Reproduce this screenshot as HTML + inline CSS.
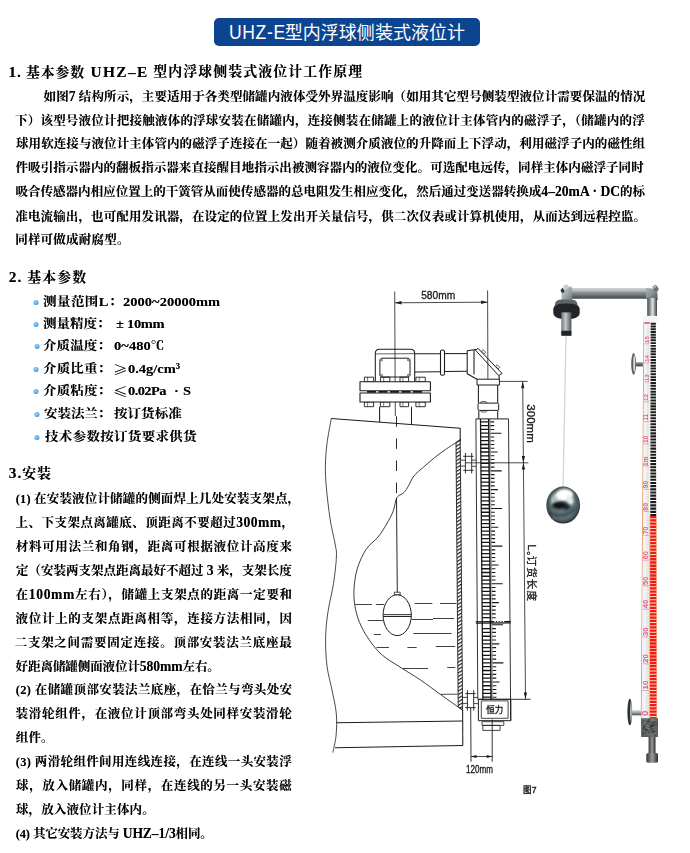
<!DOCTYPE html>
<html lang="zh-CN">
<head>
<meta charset="utf-8">
<title>UHZ-E型内浮球侧装式液位计</title>
<style>
html,body{margin:0;padding:0;background:#fff;}
body{width:690px;height:853px;overflow:hidden;}
#page{position:relative;width:690px;height:853px;overflow:hidden;background:#fff;color:#000;font-family:"Liberation Serif","Noto Serif CJK SC",serif;}
.banner{margin:0;font-weight:400;position:absolute;left:214px;top:18px;width:266px;height:28px;border-radius:5px;background:#0c4490;}
.banner span{position:absolute;color:#fff;font-family:"Liberation Sans","Noto Sans CJK SC",sans-serif;line-height:28px;white-space:nowrap;}
.banner .ba{left:14.7px;top:0;font-size:19.5px;letter-spacing:.69px;transform:scaleX(.9);transform-origin:0 50%;}
.banner .bc{left:70.76px;top:1px;font-size:18px;letter-spacing:.03px;}
#txt{position:absolute;left:0;top:0;width:690px;height:853px;will-change:transform;filter:blur(.3px);}
.ln{position:absolute;white-space:nowrap;font-weight:700;margin:0;text-shadow:0 0 .5px rgba(0,0,0,.45);}
.h{font-size:13.9px;line-height:20px;}
.p,.b,.i{font-size:12.5px;line-height:18px;}
.b{transform:scaleX(1.08);transform-origin:0 50%;}
.b .e{font-size:13.4px;}
.b .dot{transform:scaleX(.926);}
.e{font-size:13.6px;font-weight:700;}
.h .e{font-size:15.4px;}
.i .n{font-size:12.4px;}
.c{font-family:"Noto Serif CJK SC","Liberation Serif",serif;font-weight:900;font-size:13.5px;}
.dot{position:absolute;top:6.5px;width:5px;height:5px;border-radius:50%;background:radial-gradient(circle at 42% 38%,#a9d9fc 0%,#4aa3ea 55%,#2d86d6 100%);}
#dia{position:absolute;left:0;top:0;}
</style>
</head>
<body>
<div id="page">
<h1 class="banner"><span class="ba">UHZ-E</span><span class="bc">型内浮球侧装式液位计</span></h1>
<div id="txt">
<div class="ln h" style="left:8.51px;top:62px;letter-spacing:0.849px;"><span class="e">1.</span> 基本参数</div>
<div class="ln h" style="left:90.42px;top:62px;letter-spacing:1.376px;"><span class="e">UHZ–E</span></div>
<div class="ln h" style="left:153.28px;top:62px;letter-spacing:1.104px;">型内浮球侧装式液位计工作原理</div>
<div class="ln p" style="left:43.58px;top:88px;letter-spacing:0.089px;">如图<span class="e">7</span> 结构所示，主要适用于各类型储罐内液体受外界温度影响（如用其它型号侧装型液位计需要保温的情况</div>
<div class="ln p" style="left:14.98px;top:112px;letter-spacing:0.225px;">下）该型号液位计把接触液体的浮球安装在储罐内，连接侧装在储罐上的液位计主体管内的磁浮子，（储罐内的浮</div>
<div class="ln p" style="left:16px;top:135px;letter-spacing:0.084px;">球用软连接与液位计主体管内的磁浮子连接在一起）随着被测介质液位的升降而上下浮动，利用磁浮子内的磁性组</div>
<div class="ln p" style="left:15.55px;top:159px;letter-spacing:0.063px;">件吸引指示器内的翻板指示器来直接醒目地指示出被测容器内的液位变化。可选配电远传，同样主体内磁浮子同时</div>
<div class="ln p" style="left:15.53px;top:183px;letter-spacing:0.019px;">吸合传感器内相应位置上的干簧管从而使传感器的总电阻发生相应变化，然后通过变送器转换成<span class="e">4–20mA · DC</span>的标</div>
<div class="ln p" style="left:15.37px;top:208px;letter-spacing:0.116px;">准电流输出，也可配用发讯器，在设定的位置上发出开关量信号，供二次仪表或计算机使用，从而达到远程控监。</div>
<div class="ln p" style="left:15.2px;top:231px;letter-spacing:0.214px;">同样可做成耐腐型。</div>
<div class="ln h" style="left:8.79px;top:267px;letter-spacing:1.134px;"><span class="e">2.</span> 基本参数</div>
<div class="ln b" style="left:43.34px;top:293px;letter-spacing:0.416px;"><i class="dot" style="left:-8.74px"></i>测量范围<span class="e">L</span>：</div>
<div class="ln b" style="left:123.44px;top:293px;letter-spacing:0.036px;"><span class="e">2000~20000mm</span></div>
<div class="ln b" style="left:43.45px;top:315px;letter-spacing:-0.007px;"><i class="dot" style="left:-8.84px"></i>测量精度：</div>
<div class="ln b" style="left:116.4px;top:315px;"><span class="e">±</span></div>
<div class="ln b" style="left:127.4px;top:315px;letter-spacing:-0.273px;"><span class="e">10mm</span></div>
<div class="ln b" style="left:42.84px;top:337px;letter-spacing:0.091px;"><i class="dot" style="left:-8.28px"></i>介质温度：</div>
<div class="ln b" style="left:113.84px;top:337px;letter-spacing:0.079px;"><span class="e">0~480</span>℃</div>
<div class="ln b" style="left:43.18px;top:360px;letter-spacing:0.151px;"><i class="dot" style="left:-8.59px"></i>介质比重：</div>
<div class="ln b" style="left:112.68px;top:360px;"><span class="c">≥</span></div>
<div class="ln b" style="left:128px;top:360px;"><span class="e">0.4g/cm³</span></div>
<div class="ln b" style="left:43.18px;top:382px;letter-spacing:0.151px;"><i class="dot" style="left:-8.59px"></i>介质粘度：</div>
<div class="ln b" style="left:113.02px;top:382px;"><span class="c">≤</span></div>
<div class="ln b" style="left:127.68px;top:382px;letter-spacing:-0.537px;"><span class="e">0.02Pa</span></div>
<div class="ln b" style="left:173.84px;top:382px;"><span class="e">·</span></div>
<div class="ln b" style="left:182.87px;top:382px;"><span class="e">S</span></div>
<div class="ln b" style="left:43.92px;top:405px;letter-spacing:-0.056px;"><i class="dot" style="left:-9.28px"></i>安装法兰：</div>
<div class="ln b" style="left:114.05px;top:405px;letter-spacing:0.073px;">按订货标准</div>
<div class="ln b" style="left:44.5px;top:428px;letter-spacing:0.293px;"><i class="dot" style="left:-9.81px"></i>技术参数按订货要求供货</div>
<div class="ln h" style="left:8.81px;top:463px;letter-spacing:0.956px;"><span class="e">3.</span>安装</div>
<div class="ln i" style="left:15.76px;top:490px;letter-spacing:0.178px;"><span class="e n">(1)</span> 在安装液位计储罐的侧面焊上几处安装支架点，</div>
<div class="ln i" style="left:15.51px;top:514px;letter-spacing:0.479px;">上、下支架点离罐底、顶距离不要超过<span class="e">300mm</span>，</div>
<div class="ln i" style="left:15.84px;top:538px;letter-spacing:0.682px;">材料可用法兰和角钢，距离可根据液位计高度来</div>
<div class="ln i" style="left:16px;top:562px;letter-spacing:0.004px;">定（安装两支架点距离最好不超过 <span class="e">3</span> 米，支架长度</div>
<div class="ln i" style="left:15.54px;top:586px;letter-spacing:0.669px;">在<span class="e">100mm</span>左右），储罐上支架点的距离一定要和</div>
<div class="ln i" style="left:15.57px;top:610px;letter-spacing:0.701px;">液位计上的支架点距离相等，连接方法相同，因</div>
<div class="ln i" style="left:14.69px;top:634px;letter-spacing:0.727px;">二支架之间需要固定连接。顶部安装法兰底座最</div>
<div class="ln i" style="left:15.62px;top:658px;letter-spacing:-0.078px;">好距离储罐侧面液位计<span class="e">580mm</span>左右。</div>
<div class="ln i" style="left:15.76px;top:681px;letter-spacing:0.382px;"><span class="e n">(2)</span> 在储罐顶部安装法兰底座，在恰兰与弯头处安</div>
<div class="ln i" style="left:15.59px;top:705px;letter-spacing:0.685px;">装滑轮组件，在液位计顶部弯头处同样安装滑轮</div>
<div class="ln i" style="left:15.82px;top:729px;letter-spacing:0.088px;">组件。</div>
<div class="ln i" style="left:15.76px;top:753px;letter-spacing:0.365px;"><span class="e n">(3)</span> 两滑轮组件间用连线连接，在连线一头安装浮</div>
<div class="ln i" style="left:16px;top:777px;letter-spacing:0.664px;">球，放入储罐内，同样，在连线的另一头安装磁</div>
<div class="ln i" style="left:16px;top:801px;letter-spacing:0.12px;">球，放入液位计主体内。</div>
<div class="ln i" style="left:15.76px;top:825px;letter-spacing:-0.106px;"><span class="e n">(4)</span> 其它安装方法与 <span class="e">UHZ–1/3</span>相同。</div>
</div>
<svg id="dia" width="690" height="853" viewBox="0 0 690 853" role="img" aria-label="图7 UHZ-E 安装示意图">
<defs>
<linearGradient id="gPipeH" x1="0" y1="0" x2="0" y2="1"><stop offset="0" stop-color="#b4b9b9"/><stop offset=".16" stop-color="#c6caca"/><stop offset=".42" stop-color="#8a9092"/><stop offset=".75" stop-color="#626a6d"/><stop offset="1" stop-color="#3c4548"/></linearGradient>
<linearGradient id="gStemH2" x1="0" y1="0" x2="0" y2="1"><stop offset="0" stop-color="#a9aeae"/><stop offset=".5" stop-color="#5f6669"/><stop offset="1" stop-color="#3f4649"/></linearGradient>
<linearGradient id="gPipeV" x1="0" y1="0" x2="1" y2="0"><stop offset="0" stop-color="#444d50"/><stop offset=".3" stop-color="#8d9496"/><stop offset=".55" stop-color="#e2e5e5"/><stop offset=".8" stop-color="#80878a"/><stop offset="1" stop-color="#3a4346"/></linearGradient>
<linearGradient id="gTube" x1="0" y1="0" x2="1" y2="0"><stop offset="0" stop-color="#6c7578"/><stop offset=".42" stop-color="#c2c7c7"/><stop offset=".7" stop-color="#8b9294"/><stop offset="1" stop-color="#485154"/></linearGradient>
<linearGradient id="gStem" x1="0" y1="0" x2="1" y2="0"><stop offset="0" stop-color="#2e3234"/><stop offset=".5" stop-color="#9a9c9c"/><stop offset="1" stop-color="#2a2e30"/></linearGradient>
<linearGradient id="gStemH" x1="0" y1="0" x2="0" y2="1"><stop offset="0" stop-color="#d8dada"/><stop offset=".5" stop-color="#9a9e9e"/><stop offset="1" stop-color="#4a4e50"/></linearGradient>
<linearGradient id="gDisk" x1="0" y1="0" x2="1" y2="0"><stop offset="0" stop-color="#222628"/><stop offset=".55" stop-color="#5a6062"/><stop offset="1" stop-color="#c4c8c8"/></linearGradient>
<radialGradient id="gBall" cx=".5" cy=".46" r=".52"><stop offset="0" stop-color="#6b7b7f"/><stop offset=".7" stop-color="#5a6a6e"/><stop offset=".9" stop-color="#3f4e52"/><stop offset="1" stop-color="#2b363a"/></radialGradient>
<radialGradient id="gHi" cx=".5" cy=".5" r=".5"><stop offset="0" stop-color="#fff"/><stop offset=".6" stop-color="#f0f2f2"/><stop offset="1" stop-color="#f0f2f2" stop-opacity="0"/></radialGradient>
<pattern id="hatch" width="3.1" height="3.1" patternUnits="userSpaceOnUse" patternTransform="rotate(-31)"><rect width="3.1" height="1.15" fill="#1c1c1c"/></pattern>
<filter id="soft" x="-5%" y="-5%" width="110%" height="110%"><feGaussianBlur stdDeviation="0.45"/></filter>
<filter id="soft6" x="-10%" y="-10%" width="120%" height="120%"><feGaussianBlur stdDeviation="0.65"/></filter>
<linearGradient id="gElbR" x1="0" y1="0" x2="1" y2="1"><stop offset="0" stop-color="#a9afaf"/><stop offset=".45" stop-color="#8c9496"/><stop offset="1" stop-color="#4c5558"/></linearGradient>
<linearGradient id="gElb" x1="0" y1="0" x2="1" y2="1"><stop offset="0" stop-color="#d0d4d4"/><stop offset=".5" stop-color="#a2a9aa"/><stop offset="1" stop-color="#6f787a"/></linearGradient>
<filter id="blur1" x="-30%" y="-30%" width="160%" height="160%"><feGaussianBlur stdDeviation="0.9"/></filter>
</defs>
<g id="drawing" fill="none" stroke="#1c1c1c" stroke-width="1.05" stroke-linecap="butt" stroke-linejoin="round">
<line x1="394.7" y1="291.6" x2="395.3" y2="416" stroke-width="0.8"/>
<line x1="487.6" y1="290.4" x2="487.9" y2="379" stroke-width="0.8"/>
<line x1="395" y1="302.8" x2="487.6" y2="302.2" stroke-width="0.8"/>
<path d="M395 302.8l6.5-1.7v3.4zM487.6 302.2l-6.5-1.7v3.4z" fill="#1c1c1c" stroke="none"/>
<path d="M375.3 381.7V353.4q0-4.2 4.2-4.2h31q4.2 0 4.2 4.2V381.7"/>
<line x1="375.8" y1="353.9" x2="414.7" y2="353.7" stroke-width="0.7"/>
<path d="M381.4 358.2h27.1l1.5 1.5v15.8l-1.5 1.5h-27.1l-1.5-1.5v-15.8z" stroke-width="1"/>
<circle cx="381.6" cy="360" r="0.9" stroke-width="0.6"/>
<circle cx="408.3" cy="360" r="0.9" stroke-width="0.6"/>
<circle cx="381.6" cy="375.2" r="0.9" stroke-width="0.6"/>
<circle cx="408.3" cy="375.2" r="0.9" stroke-width="0.6"/>
<line x1="414.7" y1="353.8" x2="440.5" y2="353.7"/>
<line x1="414.7" y1="372" x2="440.5" y2="371.8"/>
<rect x="440.5" y="350" width="4" height="25.3" rx="1.6" stroke-width="1.1"/>
<line x1="444.5" y1="353.6" x2="467.2" y2="353.6"/>
<line x1="444.5" y1="371.4" x2="467.2" y2="371.2"/>
<path d="M467.2 350.7V373.8L477 379.2M467.2 350.7L476 349.4M474 350V374.6"/>
<path d="M478 348.3L502 373.4L498.7 375.6L475.5 350.2Z" stroke-width="1"/>
<path d="M481.6 351.2l1.6-1.5 2.6 2.6-1.6 1.5zM495.6 366.2l1.6-1.5 2.6 2.6-1.6 1.5z" stroke-width="0.7"/>
<line x1="498.9" y1="375.6" x2="499.4" y2="379.2"/>
<rect x="477" y="379.2" width="22.4" height="5.8" stroke-width="1"/>
<line x1="478.4" y1="385" x2="478.4" y2="403"/>
<line x1="497.7" y1="385" x2="497.7" y2="403"/>
<rect x="478" y="403.1" width="20.7" height="7.3" rx="1.5" stroke-width="1"/>
<path d="M480.6 403.1q0-1.6 1.6-1.6h3q1.6 0 1.6 1.6M480.6 410.4q0 1.6 1.6 1.6h3q1.6 0 1.6-1.6" stroke-width="0.7"/>
<line x1="478.8" y1="410.4" x2="478.8" y2="418.6"/>
<line x1="497.7" y1="410.4" x2="497.7" y2="418.6"/>
<rect x="364.4" y="377.2" width="9.2" height="4.5" stroke-width="0.9"/>
<line x1="367.6" y1="377.2" x2="367.6" y2="381.7" stroke-width="0.6"/>
<rect x="364.4" y="402" width="9.2" height="4.7" stroke-width="0.9"/>
<line x1="367.6" y1="402" x2="367.6" y2="406.7" stroke-width="0.6"/>
<rect x="380.4" y="377.2" width="9.4" height="4.5" stroke-width="0.9"/>
<line x1="383.7" y1="377.2" x2="383.7" y2="381.7" stroke-width="0.6"/>
<rect x="380.4" y="402" width="9.4" height="4.7" stroke-width="0.9"/>
<line x1="383.7" y1="402" x2="383.7" y2="406.7" stroke-width="0.6"/>
<rect x="400" y="377.2" width="8.6" height="4.5" stroke-width="0.9"/>
<line x1="402.9" y1="377.2" x2="402.9" y2="381.7" stroke-width="0.6"/>
<rect x="400" y="402" width="8.6" height="4.7" stroke-width="0.9"/>
<line x1="402.9" y1="402" x2="402.9" y2="406.7" stroke-width="0.6"/>
<rect x="415.9" y="377.2" width="9.4" height="4.5" stroke-width="0.9"/>
<line x1="419.2" y1="377.2" x2="419.2" y2="381.7" stroke-width="0.6"/>
<rect x="415.9" y="402" width="9.4" height="4.7" stroke-width="0.9"/>
<line x1="419.2" y1="402" x2="419.2" y2="406.7" stroke-width="0.6"/>
<rect x="360" y="381.7" width="70.4" height="9.1" stroke-width="1.1" fill="#fff"/>
<rect x="360" y="393" width="70.4" height="9" stroke-width="1.1" fill="#fff"/>
<line x1="367" y1="391.9" x2="424" y2="391.9" stroke-width="1.6" stroke-dasharray="9 2.5"/>
<line x1="379.6" y1="406.7" x2="379.6" y2="421.9"/>
<line x1="411.5" y1="406.7" x2="411.5" y2="424.2"/>
<path d="M331.3 418.5L460.2 428.3V441.3"/>
<path d="M331.3 418.5C330.58 422.67 327.98 435.72 327 443.5C326.02 451.28 325.52 457.95 325.4 465.2C325.28 472.45 325.5 477.93 326.3 487C327.1 496.07 328.7 509.93 330.2 519.6C331.7 529.27 334.27 538.77 335.3 545C336.33 551.23 336.7 550.58 336.4 557C336.1 563.42 334.9 574.38 333.5 583.5C332.1 592.62 329.32 602.65 328 611.7C326.68 620.75 325.77 628.75 325.6 637.8C325.43 646.85 325.93 657.3 327 666C328.07 674.7 330.45 682.08 332 690C333.55 697.92 335.62 705.97 336.3 713.5C336.98 721.03 336.68 728.68 336.1 735.2C335.52 741.72 333.35 749.7 332.8 752.6" stroke-width="0.8"/>
<line x1="336.5" y1="722.8" x2="462.8" y2="721.1"/>
<line x1="335" y1="747.8" x2="462.8" y2="745.4"/>
<line x1="462.65" y1="710" x2="462.8" y2="745.4"/>
<path d="M456 442.4L460.2 439.5L462.6 710L458.2 706.9Z" fill="url(#hatch)" stroke-width="0.9"/>
<path d="M456.3 442.4C454.48 443.6 449.02 447.07 445.4 449.6C441.78 452.13 438.22 454.7 434.6 457.6C430.98 460.5 427.15 463.93 423.7 467C420.25 470.07 416.43 472.85 413.9 476C411.37 479.15 410.13 483.17 408.5 485.9C406.87 488.63 405.73 490.77 404.1 492.4C402.47 494.03 400.07 494.43 398.7 495.7C397.33 496.97 396.8 497.47 395.9 500C395 502.53 394.83 506.92 393.3 510.9C391.77 514.88 389.25 519.55 386.7 523.9C384.15 528.25 381.45 532.73 378 537C374.55 541.27 369.43 544.28 366 549.5C362.57 554.72 359.38 561.92 357.4 568.3C355.42 574.68 354.53 581.65 354.1 587.8C353.67 593.95 353.88 599.4 354.8 605.2C355.72 611 357.18 616.8 359.6 622.6C362.02 628.4 365.5 634.57 369.3 640C373.1 645.43 376.95 650.48 382.4 655.2C387.85 659.92 395.65 664.17 402 668.3C408.35 672.43 414 675.58 420.5 680C427 684.42 434.03 689.8 441 694.8C447.97 699.8 458.75 707.47 462.3 710" stroke-width="0.85"/>
<line x1="441" y1="694.3" x2="457.6" y2="694.2" stroke-width="0.8"/>
<line x1="396.5" y1="416.3" x2="396.5" y2="493.5" stroke-width="0.95" stroke-dasharray="10.5 11.6"/>
<line x1="396.5" y1="497.8" x2="397.3" y2="592.2" stroke-width="0.95"/>
<rect x="394.3" y="592.2" width="5.9" height="2.6" stroke-width="0.8" fill="#fff"/>
<ellipse cx="397.2" cy="615.2" rx="14.1" ry="20.4" stroke-width="1" fill="#fff"/>
<line x1="383.2" y1="614.5" x2="411.2" y2="614.5" stroke-width="0.8"/>
<line x1="383.2" y1="616.4" x2="411.2" y2="616.4" stroke-width="1.1"/>
<line x1="355.2" y1="604.5" x2="372" y2="604.5" stroke-width="0.85"/>
<line x1="375.9" y1="604.5" x2="384.1" y2="604.5" stroke-width="0.85"/>
<line x1="414.6" y1="603.5" x2="432.4" y2="603.5" stroke-width="0.85"/>
<line x1="440" y1="603.5" x2="456.3" y2="603.5" stroke-width="0.85"/>
<line x1="367.8" y1="620.5" x2="382.8" y2="620.5" stroke-width="0.85"/>
<line x1="411.7" y1="619.5" x2="433" y2="619.5" stroke-width="0.85"/>
<line x1="433" y1="618.5" x2="454.1" y2="618.5" stroke-width="0.85"/>
<line x1="373.7" y1="634.5" x2="380.9" y2="634.5" stroke-width="0.85"/>
<line x1="413.5" y1="633.5" x2="451.5" y2="633.5" stroke-width="0.85"/>
<line x1="376.5" y1="647.5" x2="388.9" y2="647.5" stroke-width="0.85"/>
<line x1="407.4" y1="647.5" x2="416.7" y2="647.5" stroke-width="0.85"/>
<line x1="435.7" y1="646.5" x2="455.2" y2="646.5" stroke-width="0.85"/>
<line x1="403" y1="668.5" x2="428" y2="668.5" stroke-width="0.85"/>
<line x1="447.2" y1="667.5" x2="455.2" y2="667.5" stroke-width="0.85"/>
<line x1="465.4" y1="452.9" x2="465.4" y2="473.3" stroke-width="0.9"/>
<line x1="471.7" y1="452.9" x2="471.7" y2="473.3" stroke-width="0.9"/>
<line x1="463.2" y1="456.3" x2="473.6" y2="456.3" stroke-width="0.9"/>
<line x1="463.2" y1="470.3" x2="473.6" y2="470.3" stroke-width="0.9"/>
<line x1="460.3" y1="460.1" x2="465.4" y2="460.1" stroke-width="0.8"/>
<line x1="460.3" y1="466.1" x2="465.4" y2="466.1" stroke-width="0.8"/>
<line x1="471.7" y1="460.1" x2="475.9" y2="460.1" stroke-width="0.8"/>
<line x1="471.7" y1="466.3" x2="475.9" y2="466.3" stroke-width="0.8"/>
<line x1="467.4" y1="690.2" x2="467.4" y2="710.6" stroke-width="0.9"/>
<line x1="473.7" y1="690.2" x2="473.7" y2="710.6" stroke-width="0.9"/>
<line x1="465.2" y1="693.6" x2="475.6" y2="693.6" stroke-width="0.9"/>
<line x1="465.2" y1="707.6" x2="475.6" y2="707.6" stroke-width="0.9"/>
<line x1="462.3" y1="697.4" x2="467.4" y2="697.4" stroke-width="0.8"/>
<line x1="462.3" y1="703.4" x2="467.4" y2="703.4" stroke-width="0.8"/>
<line x1="473.7" y1="697.4" x2="477.9" y2="697.4" stroke-width="0.8"/>
<line x1="473.7" y1="703.6" x2="477.9" y2="703.6" stroke-width="0.8"/>
<line x1="475.9" y1="418.9" x2="508.5" y2="418.9" stroke-width="1"/>
<line x1="475.9" y1="418.9" x2="477.8" y2="699.3" stroke-width="0.9"/>
<line x1="508.5" y1="418.9" x2="510.7" y2="720.7" stroke-width="0.9"/>
<g stroke="#141414">
<line x1="480.5" y1="418.9" x2="482.88" y2="699.3" stroke-width="1.25"/>
<line x1="488.7" y1="418.9" x2="491.08" y2="699.3" stroke-width="1.45"/>
<line x1="490.2" y1="418.9" x2="492.68" y2="699.3" stroke-width="0.5" stroke="#555"/>
<path d="M480.52 421.9H488.72M480.56 425.66H488.76M480.59 429.43H488.79M480.62 433.19H488.82M480.65 436.96H488.85M480.68 440.72H488.88M480.72 444.49H488.92M480.75 448.25H488.95M480.78 452.02H488.98M480.81 455.78H489.01M480.84 459.55H489.04M480.88 463.31H489.08M480.91 467.08H489.11M480.94 470.84H489.14M480.97 474.61H489.17M481 478.38H489.2M481.04 482.14H489.24M481.07 485.9H489.27M481.1 489.67H489.3M481.13 493.43H489.33M481.16 497.2H489.36M481.2 500.96H489.4M481.23 504.73H489.43M481.26 508.5H489.46M481.29 512.26H489.49M481.32 516.02H489.52M481.36 519.79H489.56M481.39 523.55H489.59M481.42 527.32H489.62M481.45 531.09H489.65M481.48 534.85H489.68M481.52 538.62H489.72M481.55 542.38H489.75M481.58 546.14H489.78M481.61 549.91H489.81M481.64 553.67H489.84M481.68 557.44H489.88M481.71 561.2H489.91M481.74 564.97H489.94M481.77 568.74H489.97M481.8 572.5H490M481.84 576.26H490.04M481.87 580.03H490.07M481.9 583.79H490.1M481.93 587.56H490.13M481.96 591.33H490.16M482 595.09H490.2M482.03 598.86H490.23M482.06 602.62H490.26M482.09 606.38H490.29M482.12 610.15H490.32M482.16 613.91H490.36M482.19 617.68H490.39M482.28 628.61H490.48M482.31 632.42H490.51M482.35 636.23H490.55M482.38 640.04H490.58M482.41 643.85H490.61M482.44 647.66H490.64M482.48 651.47H490.68M482.51 655.28H490.71M482.54 659.09H490.74M482.57 662.9H490.77M482.61 666.71H490.81M482.64 670.52H490.84M482.67 674.33H490.87M482.7 678.14H490.9M482.74 681.95H490.94M482.77 685.76H490.97M482.8 689.57H491M482.83 693.38H491.03M482.86 697.19H491.06" stroke-width="1.3"/>
<path d="M490.42 421.9h3.7M490.46 425.66h3.7M490.49 429.43h3.7M490.52 433.19h10.9M490.55 436.96h3.7M490.58 440.72h3.7M490.62 444.49h3.7M490.65 448.25h3.7M490.68 452.02h6.9M490.71 455.78h3.7M490.74 459.55h3.7M490.78 463.31h3.7M490.81 467.08h3.7M490.84 470.84h10.9M490.87 474.61h3.7M490.9 478.38h3.7M490.94 482.14h3.7M490.97 485.9h3.7M491 489.67h6.9M491.03 493.43h3.7M491.06 497.2h3.7M491.1 500.96h3.7M491.13 504.73h3.7M491.16 508.5h10.9M491.19 512.26h3.7M491.22 516.02h3.7M491.26 519.79h3.7M491.29 523.55h3.7M491.32 527.32h6.9M491.35 531.09h3.7M491.38 534.85h3.7M491.42 538.62h3.7M491.45 542.38h3.7M491.48 546.14h10.9M491.51 549.91h3.7M491.54 553.67h3.7M491.58 557.44h3.7M491.61 561.2h3.7M491.64 564.97h6.9M491.67 568.74h3.7M491.7 572.5h3.7M491.74 576.26h3.7M491.77 580.03h3.7M491.8 583.79h10.9M491.83 587.56h3.7M491.86 591.33h3.7M491.9 595.09h3.7M491.93 598.86h3.7M491.96 602.62h6.9M491.99 606.38h3.7M492.02 610.15h3.7M492.06 613.91h3.7M492.09 617.68h3.7M492.15 624.8h10.9M492.18 628.61h3.7M492.21 632.42h3.7M492.25 636.23h3.7M492.28 640.04h3.7M492.31 643.85h6.9M492.34 647.66h3.7M492.38 651.47h3.7M492.41 655.28h3.7M492.44 659.09h3.7M492.47 662.9h10.9M492.51 666.71h3.7M492.54 670.52h3.7M492.57 674.33h3.7M492.6 678.14h3.7M492.64 681.95h6.9M492.67 685.76h3.7M492.7 689.57h3.7M492.73 693.38h3.7M492.76 697.19h3.7" stroke-width="1.1"/>
<line x1="475.6" y1="621.7" x2="493" y2="621.6" stroke-width="1.1"/>
<line x1="493" y1="621.6" x2="505" y2="621.5" stroke-width="1.1" stroke-dasharray="1.2 1.6"/>
<line x1="505" y1="621.5" x2="510.8" y2="621.5" stroke-width="1.1"/>
<line x1="476" y1="623.1" x2="510.6" y2="622.9" stroke-width="1.1"/>
</g>
<line x1="499.7" y1="381.4" x2="527.7" y2="381.4" stroke-width="0.8"/>
<line x1="465.4" y1="462.8" x2="528.4" y2="462.8" stroke-width="0.8"/>
<line x1="478.4" y1="699.3" x2="530.6" y2="699.3" stroke-width="0.9"/>
<line x1="522.7" y1="381.4" x2="525.5" y2="699.3" stroke-width="0.8"/>
<path d="M522.7 381.4l-1.6 6.8h3.3zM523.4 462.8l-1.7-6.8h3.3zM523.4 462.8l-1.6 6.8h3.3zM525.5 699.3l-1.7-6.8h3.3z" fill="#1c1c1c" stroke="none"/>
<rect x="478.4" y="699.3" width="32.4" height="21.4" stroke-width="1"/>
<rect x="481.3" y="700.9" width="26.8" height="17.4" stroke-width="0.8"/>
<rect x="482" y="721.7" width="21.8" height="3.7" stroke-width="0.8"/>
<rect x="482.8" y="725.4" width="17.3" height="5" stroke-width="0.8"/>
<line x1="470.7" y1="707.6" x2="471" y2="761.7" stroke-width="0.9"/>
<line x1="492.2" y1="719.6" x2="492.2" y2="761.7" stroke-width="0.9"/>
<line x1="471" y1="756.5" x2="492.2" y2="756.5" stroke-width="0.8"/>
<path d="M471 756.5l5.5-1.5v3zM492.2 756.5l-5.5-1.5v3z" fill="#1c1c1c" stroke="none"/>
</g>
<g font-family="'Liberation Sans','Noto Sans CJK SC',sans-serif" fill="#161616" stroke="#161616" stroke-width="0.3">
<text x="421.2" y="298.7" font-size="11.2" textLength="34" lengthAdjust="spacingAndGlyphs">580mm</text>
<text transform="translate(526.6 404.3) rotate(90)" font-size="11.4" textLength="38.5" lengthAdjust="spacingAndGlyphs">300mm</text>
<text transform="translate(527.9 544.6) rotate(90)" font-size="10.5" textLength="56.3" lengthAdjust="spacing">L<tspan font-size="6" dy="0.5">o</tspan><tspan dy="-0.5">订货长度</tspan></text>
<text x="486.2" y="713.2" font-size="8.6" textLength="17" lengthAdjust="spacingAndGlyphs">恒力</text>
<text x="466" y="772.9" font-size="10.4" textLength="27" lengthAdjust="spacingAndGlyphs">120mm</text>
<text x="523.1" y="793" font-size="9.4" stroke-width="0.35" textLength="13.4" lengthAdjust="spacingAndGlyphs">图7</text>
</g>
<g id="photo" filter="url(#soft6)">
<line x1="566" y1="335.5" x2="563" y2="488" stroke-width="1.3" stroke="#d2d5d5"/>
<rect x="568" y="288.3" width="80" height="10.4" fill="url(#gPipeH)"/>
<path d="M561.6 300.500V294.500q0-7.700 7.400-7.700h3v13.700z" fill="url(#gElb)"/>
<path d="M563 286l3.800-1.800 2.800 2.800-4.400 3z" fill="#c9cdcd"/>
<path d="M560.4 290.600l2.200-3 2 3.800-2.200 2z" fill="#2f383c"/>
<path d="M646 288.300h4.200q7.400 0 7.400 7.600v4.100h-10.400v-1.300h-1.200z" fill="url(#gElbR)"/>
<path d="M652.4 286.400l3.400-1.600 3 3.600-1.200 3.400-2.800-.4z" fill="#6a7376"/>
<path d="M653.2 286.600l2-1 1.200 1.400-2.400 1.200z" fill="#b9bebe"/>
<rect x="647.2" y="298" width="9.8" height="18.2" fill="url(#gPipeV)"/>
<path d="M554.6 306.5q0-6.900 6.400-6.900h10.400q6.400 0 6.400 6.900z" fill="#5d6568"/>
<path d="M553.3 309.3q0-5.800 13.200-5.800t13.200 5.800v3.400q0 6.300-13.200 6.300t-13.200-6.300z" fill="#22272b"/>
<rect x="561.3" y="312.4" width="10.1" height="23.4" fill="url(#gTube)"/>
<rect x="561.3" y="330.7" width="10.1" height="5.1" rx="1" fill="#20282c"/>
<ellipse cx="563.2" cy="505.1" rx="16.9" ry="18.5" fill="url(#gBall)"/>
<g filter="url(#blur1)">
<ellipse cx="556.6" cy="499" rx="5.2" ry="7.4" fill="#b4bec0" transform="rotate(30 556.6 499)"/>
<ellipse cx="564.6" cy="495" rx="8.6" ry="6" fill="#ffffff"/>
<ellipse cx="565" cy="495.2" rx="5.5" ry="3.6" fill="#ffffff"/>
<ellipse cx="570" cy="500" rx="3.4" ry="5" fill="#e4e8e8" transform="rotate(-20 570 500)"/>
<path d="M549.5 512.5q13 8.500 26.500-5" fill="none" stroke="#334145" stroke-width="1.6"/>
<path d="M552 517q11 5.500 21-2" fill="none" stroke="#6d7c80" stroke-width="1.4"/>
</g>
<g filter="url(#blur1)">
<ellipse cx="559.6" cy="505.2" rx="7.4" ry="3.5" fill="#0f1519"/>
<ellipse cx="566.4" cy="507" rx="3.2" ry="2.7" fill="#1b2428"/>
</g>
</g>
<g id="gauge" filter="url(#soft)">
<rect x="643.1" y="315.9" width="14.9" height="6.3" fill="#f5f5f1"/>
<path d="M643.4 322.2L644.35 322.2L641.75 718.2L640.8 718.2Z" fill="#ec9a64"/>
<path d="M644.35 322.2L649.7 322.2L648.71 718.2L641.75 718.2Z" fill="#eef3f9"/>
<path d="M649.22 516L656.74 516L657.1 718.2L648.71 718.2Z" fill="#f6b98e"/>
<path d="M650.24 516L656.19 516L656.55 718.2L649.85 718.2Z" fill="#fbd9bd"/>
<path d="M644.35 322.2L649.7 322.2L649.7 323.8L644.34 323.8Z" fill="#e0405e"/>
<path d="M650.61 322.8H655.85V324.66H650.61ZM650.61 325.54H655.86V327.41H650.61ZM650.6 328.29H655.86V330.16H650.6ZM650.6 331.05H655.87V332.93H650.6ZM650.59 333.81H655.87V335.7H650.59ZM650.59 336.58H655.88V338.47H650.59ZM650.58 339.36H655.88V341.25H650.58ZM650.58 342.15H655.89V344.05H650.58ZM650.57 344.94H655.89V346.84H650.57ZM650.57 347.74H655.9V349.65H650.57ZM650.56 350.55H655.9V352.46H650.56ZM650.55 353.37H655.91V355.29H650.55ZM650.55 356.19H655.91V358.11H650.55ZM650.54 359.02H655.92V360.95H650.54ZM650.54 361.86H655.92V363.79H650.54ZM650.53 364.71H655.93V366.65H650.53ZM650.53 367.56H655.93V369.51H650.53ZM650.52 370.42H655.94V372.37H650.52ZM650.52 373.29H655.94V375.25H650.52ZM650.51 376.17H655.95V378.13H650.51ZM650.5 379.05H655.95V381.02H650.5ZM650.5 381.95H655.96V383.92H650.5ZM650.49 384.85H655.96V386.82H650.49ZM650.49 387.75H655.97V389.74H650.49ZM650.48 390.67H655.97V392.66H650.48ZM650.48 393.59H655.98V395.59H650.48ZM650.47 396.52H655.98V398.52H650.47ZM650.47 399.46H655.99V401.47H650.47ZM650.46 402.41H655.99V404.42H650.46ZM650.45 405.37H656V407.38H650.45ZM650.45 408.33H656V410.35H650.45ZM650.44 411.3H656.01V413.33H650.44ZM650.44 414.28H656.01V416.31H650.44ZM650.43 417.27H656.02V419.3H650.43ZM650.42 420.26H656.02V422.3H650.42ZM650.42 423.27H656.03V425.31H650.42ZM650.41 426.28H656.03V428.33H650.41ZM650.41 429.3H656.04V431.35H650.41ZM650.4 432.32H656.04V434.39H650.4ZM650.4 435.36H656.05V437.43H650.4ZM650.39 438.4H656.06V440.48H650.39ZM650.38 441.45H656.06V443.53H650.38ZM650.38 444.51H656.07V446.6H650.38ZM650.37 447.58H656.07V449.67H650.37ZM650.37 450.66H656.08V452.76H650.37ZM650.36 453.74H656.08V455.85H650.36ZM650.35 456.84H656.09V458.95H650.35ZM650.35 459.94H656.09V462.05H650.35ZM650.34 463.05H656.1V465.17H650.34ZM650.34 466.16H656.1V468.29H650.34ZM650.33 469.29H656.11V471.42H650.33ZM650.32 472.43H656.12V474.56H650.32ZM650.32 475.57H656.12V477.71H650.32ZM650.31 478.72H656.13V480.87H650.31ZM650.31 481.88H656.13V484.04H650.31ZM650.3 485.05H656.14V487.21H650.3ZM650.29 488.23H656.14V490.39H650.29ZM650.29 491.41H656.15V493.58H650.29ZM650.28 494.61H656.15V496.78H650.28ZM650.27 497.81H656.16V499.99H650.27ZM650.27 501.02H656.17V503.21H650.27ZM650.26 504.24H656.17V506.43H650.26ZM650.26 507.47H656.18V509.67H650.26ZM650.25 510.7H656.18V512.91H650.25ZM650.24 513.95H656.19V516H650.24Z" fill="#1a1a1c"/>
<path d="M650.24 516H656.19V518.33H650.24ZM650.23 519.24H656.2V521.57H650.23ZM650.23 522.48H656.2V524.81H650.23ZM650.22 525.72H656.21V528.05H650.22ZM650.21 528.96H656.22V531.29H650.21ZM650.21 532.2H656.22V534.53H650.21ZM650.2 535.44H656.23V537.77H650.2ZM650.19 538.68H656.23V541.01H650.19ZM650.19 541.92H656.24V544.25H650.19ZM650.18 545.16H656.24V547.49H650.18ZM650.18 548.4H656.25V550.73H650.18ZM650.17 551.64H656.26V553.97H650.17ZM650.16 554.88H656.26V557.21H650.16ZM650.16 558.12H656.27V560.45H650.16ZM650.15 561.36H656.27V563.69H650.15ZM650.14 564.6H656.28V566.93H650.14ZM650.14 567.84H656.28V570.17H650.14ZM650.13 571.08H656.29V573.41H650.13ZM650.13 574.32H656.3V576.65H650.13ZM650.12 577.56H656.3V579.89H650.12ZM650.11 580.8H656.31V583.13H650.11ZM650.11 584.04H656.31V586.37H650.11ZM650.1 587.28H656.32V589.61H650.1ZM650.09 590.52H656.32V592.85H650.09ZM650.09 593.76H656.33V596.09H650.09ZM650.08 597H656.34V599.33H650.08ZM650.08 600.24H656.34V602.57H650.08ZM650.07 603.48H656.35V605.81H650.07ZM650.06 606.72H656.35V609.05H650.06ZM650.06 609.96H656.36V612.29H650.06ZM650.05 613.2H656.36V615.53H650.05ZM650.04 616.44H656.37V618.77H650.04ZM650.04 619.68H656.38V622.01H650.04ZM650.03 622.92H656.38V625.25H650.03ZM650.03 626.16H656.39V628.49H650.03ZM650.02 629.4H656.39V631.73H650.02ZM650.01 632.64H656.4V634.97H650.01ZM650.01 635.88H656.4V638.21H650.01ZM650 639.12H656.41V641.45H650ZM649.99 642.36H656.42V644.69H649.99ZM649.99 645.6H656.42V647.93H649.99ZM649.98 648.84H656.43V651.17H649.98ZM649.97 652.08H656.43V654.41H649.97ZM649.97 655.32H656.44V657.65H649.97ZM649.96 658.56H656.44V660.89H649.96ZM649.96 661.8H656.45V664.13H649.96ZM649.95 665.04H656.46V667.37H649.95ZM649.94 668.28H656.46V670.61H649.94ZM649.94 671.52H656.47V673.85H649.94ZM649.93 674.76H656.47V677.09H649.93ZM649.92 678H656.48V680.33H649.92ZM649.92 681.24H656.48V683.57H649.92ZM649.91 684.48H656.49V686.81H649.91ZM649.91 687.72H656.5V690.05H649.91ZM649.9 690.96H656.5V693.29H649.9ZM649.89 694.2H656.51V696.53H649.89ZM649.89 697.44H656.51V699.77H649.89ZM649.88 700.68H656.52V703.01H649.88ZM649.87 703.92H656.52V706.25H649.87ZM649.87 707.16H656.53V709.49H649.87ZM649.86 710.4H656.54V712.73H649.86ZM649.86 713.64H656.54V715.97H649.86ZM649.85 716.88H656.55V718.2H649.85Z" fill="#ee1c18"/>
<path d="M646.99 326.2H649.69M646.99 328.6H649.69M646.98 331H649.68M646.98 333.4H649.68M646.97 335.8H649.67M646.96 338.2H649.66M646.96 340.6H649.66M646.95 343H649.65M646.95 345.4H649.65M646.94 347.8H649.64M646.93 350.2H649.63M646.93 352.6H649.63M646.92 355H649.62M646.92 357.4H649.62M646.91 359.8H649.61M646.9 362.2H649.6M646.9 364.6H649.6M646.89 367H649.59M646.89 369.4H649.59M646.88 371.8H649.58M646.87 374.2H649.57M646.87 376.6H649.57M646.86 379H649.56M646.86 381.4H649.56M646.85 383.8H649.55M646.84 386.2H649.54M646.84 388.6H649.54M646.83 391H649.53M646.83 393.4H649.53M646.82 395.8H649.52M646.81 398.2H649.51M646.81 400.6H649.51M646.8 403H649.5M646.8 405.4H649.5M646.79 407.8H649.49M646.78 410.2H649.48M646.78 412.6H649.48M646.77 415H649.47M646.76 417.4H649.46M646.76 419.8H649.46M646.75 422.2H649.45M646.75 424.6H649.45M646.74 427H649.44M646.73 429.4H649.43M646.73 431.8H649.43M646.72 434.2H649.42M646.72 436.6H649.42M646.71 439H649.41M646.7 441.4H649.4M646.7 443.8H649.4M646.69 446.2H649.39M646.69 448.6H649.39M646.68 451H649.38M646.67 453.4H649.37M646.67 455.8H649.37M646.66 458.2H649.36M646.66 460.6H649.36M646.65 463H649.35M646.64 465.4H649.34M646.64 467.8H649.34M646.63 470.2H649.33M646.63 472.6H649.33M646.62 475H649.32M646.61 477.4H649.31M646.61 479.8H649.31M646.6 482.2H649.3M646.6 484.6H649.3M646.59 487H649.29M646.58 489.4H649.28M646.58 491.8H649.28M646.57 494.2H649.27M646.56 496.6H649.26M646.56 499H649.26M646.55 501.4H649.25M646.55 503.8H649.25M646.54 506.2H649.24M646.53 508.6H649.23M646.53 511H649.23M646.52 513.4H649.22M646.52 515.8H649.22M646.51 518.2H649.21M646.5 520.6H649.2M646.5 523H649.2M646.49 525.4H649.19M646.49 527.8H649.19M646.48 530.2H649.18M646.47 532.6H649.17M646.47 535H649.17M646.46 537.4H649.16M646.46 539.8H649.16M646.45 542.2H649.15M646.44 544.6H649.14M646.44 547H649.14M646.43 549.4H649.13M646.43 551.8H649.13M646.42 554.2H649.12M646.41 556.6H649.11M646.41 559H649.11M646.4 561.4H649.1M646.4 563.8H649.1M646.39 566.2H649.09M646.38 568.6H649.08M646.38 571H649.08M646.37 573.4H649.07M646.36 575.8H649.06M646.36 578.2H649.06M646.35 580.6H649.05M646.35 583H649.05M646.34 585.4H649.04M646.33 587.8H649.03M646.33 590.2H649.03M646.32 592.6H649.02M646.32 595H649.02M646.31 597.4H649.01M646.3 599.8H649M646.3 602.2H649M646.29 604.6H648.99M646.29 607H648.99M646.28 609.4H648.98M646.27 611.8H648.97M646.27 614.2H648.97M646.26 616.6H648.96M646.26 619H648.96M646.25 621.4H648.95M646.24 623.8H648.94M646.24 626.2H648.94M646.23 628.6H648.93M646.23 631H648.93M646.22 633.4H648.92M646.21 635.8H648.91M646.21 638.2H648.91M646.2 640.6H648.9M646.2 643H648.9M646.19 645.4H648.89M646.18 647.8H648.88M646.18 650.2H648.88M646.17 652.6H648.87M646.17 655H648.87M646.16 657.4H648.86M646.15 659.8H648.85M646.15 662.2H648.85M646.14 664.6H648.84M646.13 667H648.83M646.13 669.4H648.83M646.12 671.8H648.82M646.12 674.2H648.82M646.11 676.6H648.81M646.1 679H648.8M646.1 681.4H648.8M646.09 683.8H648.79M646.09 686.2H648.79M646.08 688.6H648.78M646.07 691H648.77M646.07 693.4H648.77M646.06 695.8H648.76M646.06 698.2H648.76M646.05 700.6H648.75M646.04 703H648.74M646.04 705.4H648.74M646.03 707.8H648.73M646.03 710.2H648.73M646.02 712.6H648.72M646.01 715H648.71" fill="none" stroke="#d8b45a" stroke-width="0.45"/>
</g>
<g font-family="'Liberation Sans',sans-serif" font-weight="700" fill="#e2357a" fill-opacity=".78" text-anchor="middle" filter="url(#soft)">
<text transform="translate(648.64 339.6) rotate(-90)" font-size="5.91">15</text>
<text transform="translate(648.59 358.6) rotate(-90)" font-size="6.02">14</text>
<text transform="translate(648.54 377.8) rotate(-90)" font-size="6.14">13</text>
<text transform="translate(648.48 397.5) rotate(-90)" font-size="6.26">12</text>
<text transform="translate(648.43 417.2) rotate(-90)" font-size="6.38">11</text>
<text transform="translate(648.37 439.3) rotate(-90)" font-size="6.51">10</text>
<text transform="translate(648.31 461.3) rotate(-90)" font-size="6.64">1m</text>
<text transform="translate(648.25 484.5) rotate(-90)" font-size="6.78">90</text>
<text transform="translate(648.19 506.8) rotate(-90)" font-size="6.92">80</text>
<text transform="translate(648.13 530.4) rotate(-90)" font-size="7.06">70</text>
<text transform="translate(648.06 555.3) rotate(-90)" font-size="7.21">60</text>
<text transform="translate(647.99 580.8) rotate(-90)" font-size="7.37">50</text>
<text transform="translate(647.93 604) rotate(-90)" font-size="7.51">40</text>
<text transform="translate(647.86 631.7) rotate(-90)" font-size="7.68">30</text>
<text transform="translate(647.78 658.4) rotate(-90)" font-size="7.84">20</text>
<text transform="translate(647.71 685) rotate(-90)" font-size="8">10</text>
<text transform="translate(648.21 713.4) rotate(-90)" font-size="9.77">0</text>
</g>
<path d="M644.54 343.76H649.36M644.41 362.83H649.31M644.28 382.1H649.26M644.16 401.88H649.21M644.03 421.65H649.17M643.88 443.84H649.11M643.74 465.92H649.05M643.58 489.21H649M643.44 511.59H648.94M643.28 535.28H648.88M643.12 560.27H648.82M642.95 585.87H648.75M642.8 609.15H648.69M642.62 636.96H648.62M642.44 663.76H648.56M642.27 690.46H648.49M642.08 719.96H648.42" fill="none" stroke="#e2357a" stroke-width="0.5" opacity=".8"/>
<g id="fittings" filter="url(#soft)">
<ellipse cx="633.6" cy="363.9" rx="2.4" ry="10.9" fill="#596164"/>
<ellipse cx="634.2" cy="363.6" rx="1" ry="8.6" fill="#d6dada"/>
<rect x="635.6" y="362.1" width="7.2" height="4.3" fill="url(#gStemH2)"/>
<ellipse cx="629.8" cy="712" rx="2.4" ry="13.2" fill="#2c3033"/>
<ellipse cx="631" cy="711.6" rx="0.9" ry="10.6" fill="#b9bdbd"/>
<rect x="632" y="710.2" width="9.2" height="5.1" fill="url(#gStemH)"/>
<rect x="641.1" y="718.2" width="16.9" height="18.8" fill="#5c5e5e"/>
<path d="M646.46 721.56h2.56M642.69 728.11h1.88M642.47 727.63h1.09M648.1 720.19h1.22M647.97 733.06h1.3M644.95 729.67h3.27M650.26 725.74h3.34M642.3 733.59h1.7M643.76 721h1.74M653.84 722.07h2.4M651.18 725.33h2.31M642.54 720.01h1.49M651.81 726.27h1.75M650.38 726.7h1.72M653.52 730.88h1.59M650.22 727.93h3.1M652.54 723.89h3.35M643.37 726.11h2.82M643.88 727.31h1.09M651.62 732h2.38M654.73 724.33h2.67M650.52 728.86h2.09M654.2 735.06h2.14" fill="none" stroke="#2f3131" stroke-width="0.9"/>
<path d="M651.56 720.03h2.68M651.31 735.88h2.97M645.87 725.56h2.6M641.94 726.85h1.4M643.36 720h2.84M643.54 723.21h1.94M654.67 720.37h2.08M649.84 734.02h2.97M654.56 723.73h2M646.98 734.03h3.3M643.86 722h1.56M645.1 727.24h2.41M645.54 719.07h2.01M647.14 728.63h3.29M651.96 727.76h2.48M651.74 719.92h3.16M653.3 733.87h2.91M647.49 725.78h1.25M651.11 720.06h1.16M644.73 721.76h1.82M642.39 719h1.36M643.12 725.18h1.06M654.71 729.44h1.36" fill="none" stroke="#8c8e8e" stroke-width="0.8"/>
<rect x="648.6" y="736.9" width="6.9" height="16.2" fill="url(#gStem)"/>
<rect x="646.3" y="752.9" width="11.7" height="9.8" rx="1.8" fill="url(#gStem)"/>
</g>
</svg>
</div>
</body>
</html>
